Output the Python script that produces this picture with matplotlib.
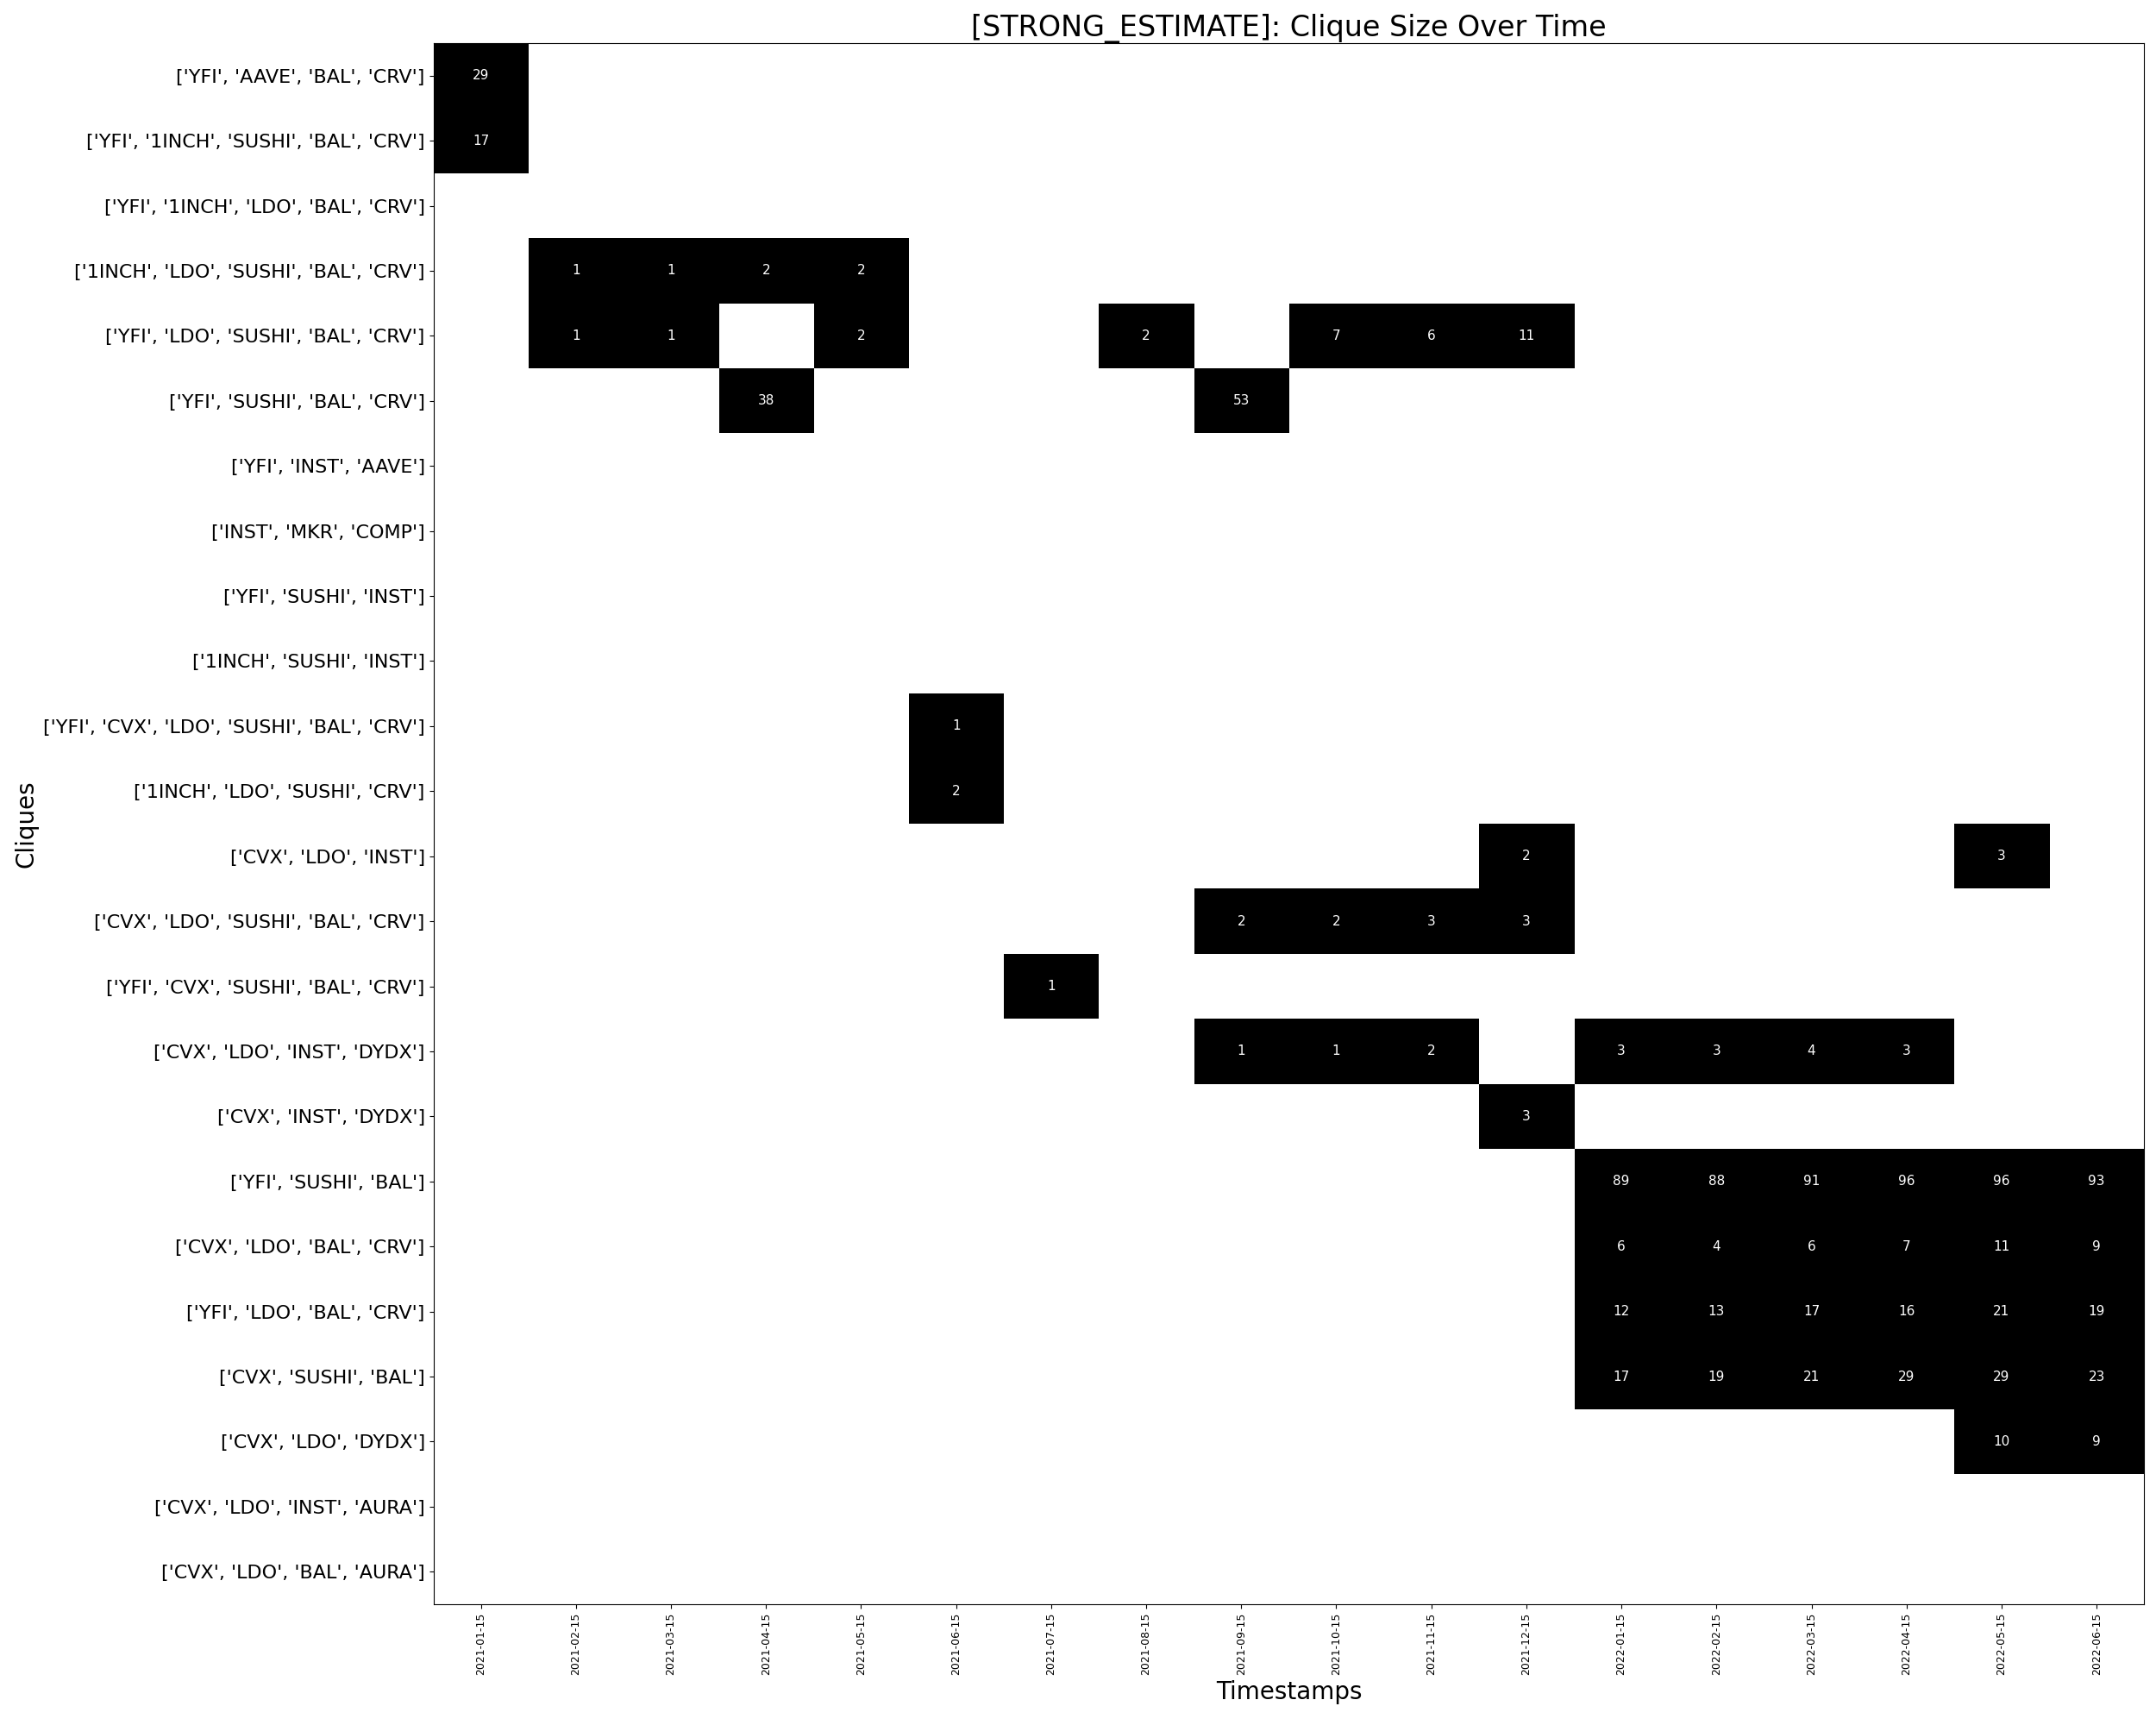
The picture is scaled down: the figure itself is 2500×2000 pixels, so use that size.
import numpy as np
import matplotlib
matplotlib.use('Agg')
import matplotlib.pyplot as plt
from matplotlib.colors import ListedColormap

timestamps = ['2021-01-15', '2021-02-15', '2021-03-15', '2021-04-15', '2021-05-15', '2021-06-15',
              '2021-07-15', '2021-08-15', '2021-09-15', '2021-10-15', '2021-11-15', '2021-12-15',
              '2022-01-15', '2022-02-15', '2022-03-15', '2022-04-15', '2022-05-15', '2022-06-15']

cliques = [['YFI', 'AAVE', 'BAL', 'CRV'],
           ['YFI', '1INCH', 'SUSHI', 'BAL', 'CRV'],
           ['YFI', '1INCH', 'LDO', 'BAL', 'CRV'],
           ['1INCH', 'LDO', 'SUSHI', 'BAL', 'CRV'],
           ['YFI', 'LDO', 'SUSHI', 'BAL', 'CRV'],
           ['YFI', 'SUSHI', 'BAL', 'CRV'],
           ['YFI', 'INST', 'AAVE'],
           ['INST', 'MKR', 'COMP'],
           ['YFI', 'SUSHI', 'INST'],
           ['1INCH', 'SUSHI', 'INST'],
           ['YFI', 'CVX', 'LDO', 'SUSHI', 'BAL', 'CRV'],
           ['1INCH', 'LDO', 'SUSHI', 'CRV'],
           ['CVX', 'LDO', 'INST'],
           ['CVX', 'LDO', 'SUSHI', 'BAL', 'CRV'],
           ['YFI', 'CVX', 'SUSHI', 'BAL', 'CRV'],
           ['CVX', 'LDO', 'INST', 'DYDX'],
           ['CVX', 'INST', 'DYDX'],
           ['YFI', 'SUSHI', 'BAL'],
           ['CVX', 'LDO', 'BAL', 'CRV'],
           ['YFI', 'LDO', 'BAL', 'CRV'],
           ['CVX', 'SUSHI', 'BAL'],
           ['CVX', 'LDO', 'DYDX'],
           ['CVX', 'LDO', 'INST', 'AURA'],
           ['CVX', 'LDO', 'BAL', 'AURA']]

# clique size per timestamp, {column index: size}
sizes = [{0: 29},
         {0: 17},
         {},
         {1: 1, 2: 1, 3: 2, 4: 2},
         {1: 1, 2: 1, 4: 2, 7: 2, 9: 7, 10: 6, 11: 11},
         {3: 38, 8: 53},
         {}, {}, {}, {},
         {5: 1},
         {5: 2},
         {11: 2, 16: 3},
         {8: 2, 9: 2, 10: 3, 11: 3},
         {6: 1},
         {8: 1, 9: 1, 10: 2, 12: 3, 13: 3, 14: 4, 15: 3},
         {11: 3},
         {12: 89, 13: 88, 14: 91, 15: 96, 16: 96, 17: 93},
         {12: 6, 13: 4, 14: 6, 15: 7, 16: 11, 17: 9},
         {12: 12, 13: 13, 14: 17, 15: 16, 16: 21, 17: 19},
         {12: 17, 13: 19, 14: 21, 15: 29, 16: 29, 17: 23},
         {16: 10, 17: 9},
         {}, {}]

grid = np.full((len(cliques), len(timestamps)), np.nan)
for i, row in enumerate(sizes):
    for j, v in row.items():
        grid[i, j] = v

fig = plt.figure(figsize=(25, 20), dpi=100)
ax = fig.add_axes([0.201, 0.07, 0.7935, 0.905])
ax.imshow(np.ma.masked_invalid(grid), cmap=ListedColormap(['black']), aspect='auto',
          interpolation='nearest')

for i in range(grid.shape[0]):
    for j in range(grid.shape[1]):
        if not np.isnan(grid[i, j]):
            ax.text(j, i, str(int(grid[i, j])), ha='center', va='center', color='white', fontsize=11)

ax.set_xticks(range(len(timestamps)))
ax.set_xticklabels(timestamps, rotation=90, fontsize=9)
ax.set_yticks(range(len(cliques)))
ax.set_yticklabels([str(c) for c in cliques], fontsize=16)
ax.set_xlabel('Timestamps', fontsize=20)
ax.set_ylabel('Cliques', fontsize=20)
ax.set_title('[STRONG_ESTIMATE]: Clique Size Over Time', fontsize=24)

fig.savefig('out.png')
